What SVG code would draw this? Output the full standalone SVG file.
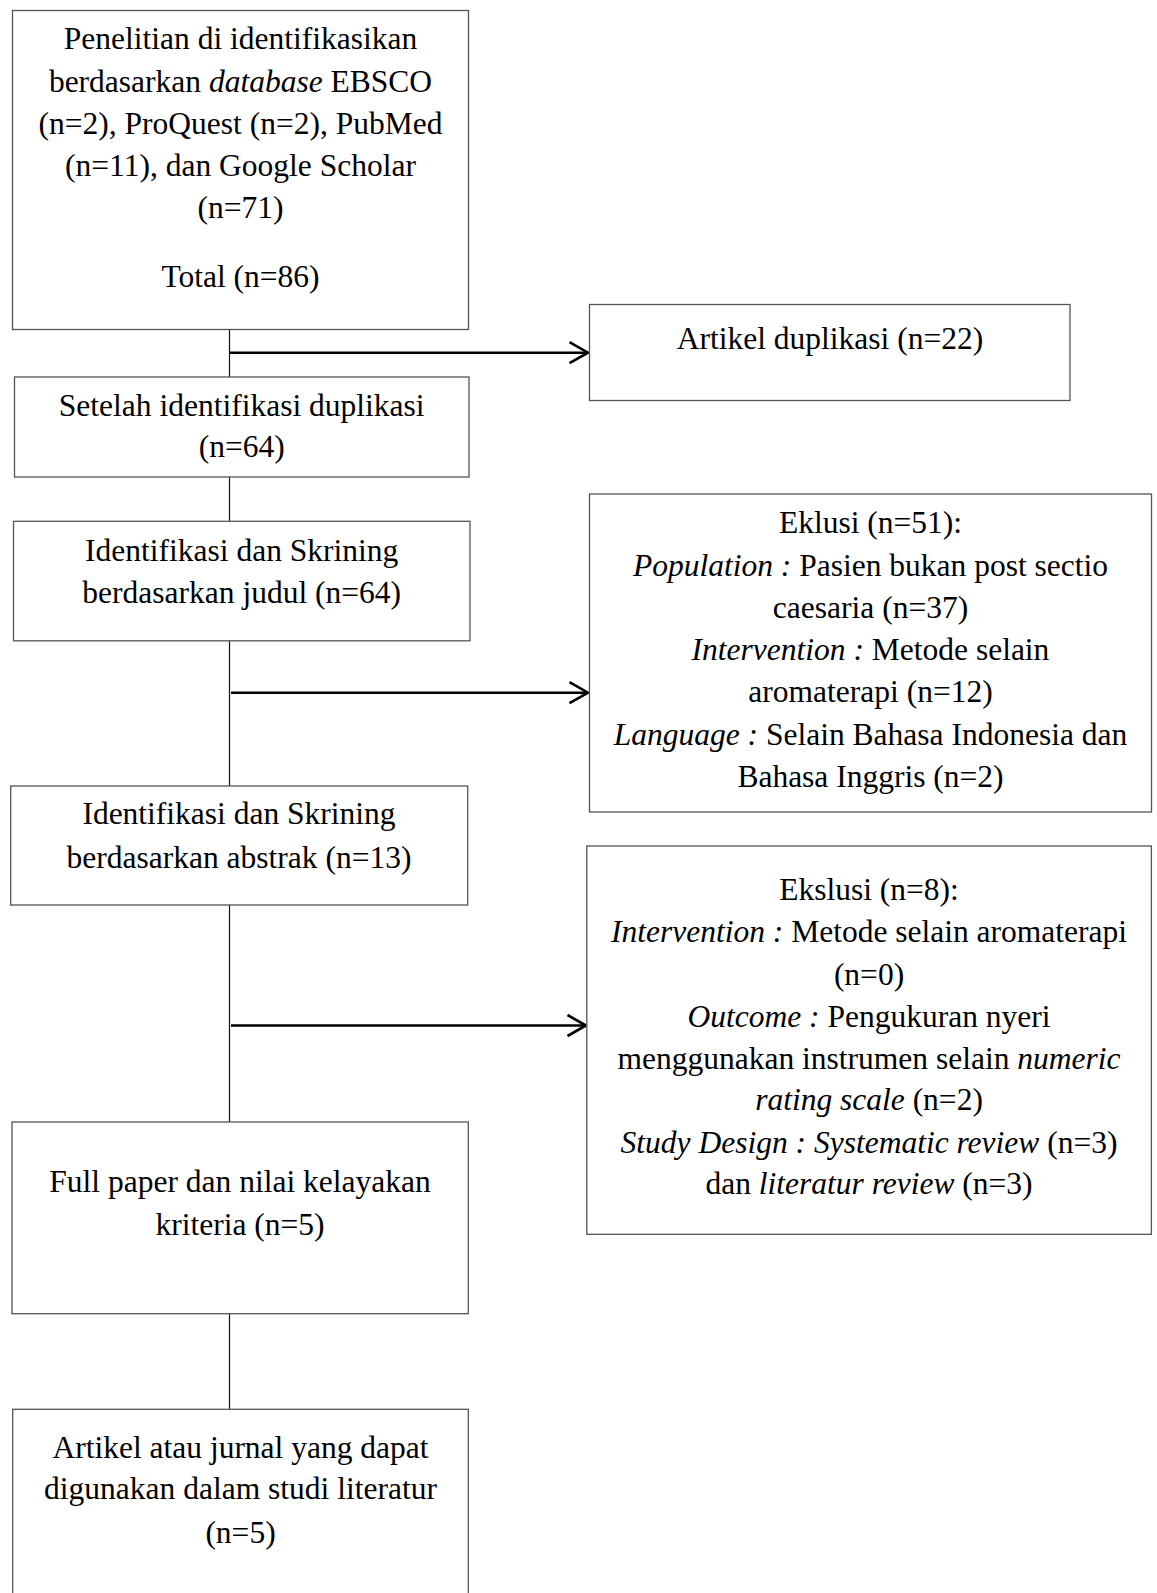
<svg xmlns="http://www.w3.org/2000/svg" width="1157" height="1593" viewBox="0 0 1157 1593">
<style>
  .box { fill: #ffffff; stroke: #555555; stroke-width: 1.3; }
  .t { font-family: "Liberation Serif", "Times New Roman", serif; font-size: 31.5px; fill: #000000; text-anchor: middle; }
  .i { font-style: italic; }
  .vline { stroke: #111111; stroke-width: 1.2; fill: none; }
  .arrow { stroke: #000000; stroke-width: 2.6; fill: none; marker-end: url(#chev); }
</style>
<defs>
  <marker id="chev" markerUnits="userSpaceOnUse" markerWidth="24" markerHeight="26" refX="20" refY="12" orient="auto" overflow="visible">
    <path d="M1.5,1.5 L20,12 L1.5,22.5" fill="none" stroke="#000000" stroke-width="2.6" stroke-linejoin="miter"/>
  </marker>
</defs>
<rect x="0" y="0" width="1157" height="1593" fill="#ffffff"/>

<g id="connectors">
  <line class="vline" x1="229.5" y1="329" x2="229.5" y2="377"/>
  <line class="vline" x1="229.5" y1="477" x2="229.5" y2="521"/>
  <line class="vline" x1="229.5" y1="641" x2="229.5" y2="786"/>
  <line class="vline" x1="229.5" y1="905" x2="229.5" y2="1122"/>
  <line class="vline" x1="229.5" y1="1314" x2="229.5" y2="1409"/>
  <line class="arrow" x1="229.5" y1="352.7" x2="588" y2="352.7"/>
  <line class="arrow" x1="231" y1="692.7" x2="588" y2="692.7"/>
  <line class="arrow" x1="231" y1="1025.5" x2="586" y2="1025.5"/>
</g>

<g id="node-identifikasi">
  <rect class="box" x="12.5" y="10.5" width="456" height="319"/>
  <text class="t" x="240.5" y="49">Penelitian di identifikasikan</text>
  <text class="t" x="240.5" y="91.5">berdasarkan <tspan class="i">database</tspan> EBSCO</text>
  <text class="t" x="240.5" y="133.5">(n=2), ProQuest (n=2), PubMed</text>
  <text class="t" x="240.5" y="175.5">(n=11), dan Google Scholar</text>
  <text class="t" x="240.5" y="218">(n=71)</text>
  <text class="t" x="240.5" y="287">Total (n=86)</text>
</g>

<g id="node-duplikasi">
  <rect class="box" x="589.5" y="304.5" width="480.5" height="96"/>
  <text class="t" x="830" y="349">Artikel duplikasi (n=22)</text>
</g>

<g id="node-setelah">
  <rect class="box" x="14.5" y="377" width="454.5" height="100"/>
  <text class="t" x="241.7" y="416">Setelah identifikasi duplikasi</text>
  <text class="t" x="241.7" y="457">(n=64)</text>
</g>

<g id="node-judul">
  <rect class="box" x="13.5" y="521.3" width="456.5" height="119.5"/>
  <text class="t" x="241.7" y="560.7">Identifikasi dan Skrining</text>
  <text class="t" x="241.7" y="602.7">berdasarkan judul (n=64)</text>
</g>

<g id="node-eklusi">
  <rect class="box" x="589.5" y="494" width="562" height="318"/>
  <text class="t" x="870.5" y="533.3">Eklusi (n=51):</text>
  <text class="t" x="870.5" y="575.7"><tspan class="i">Population :</tspan> Pasien bukan post sectio</text>
  <text class="t" x="870.5" y="618.3">caesaria (n=37)</text>
  <text class="t" x="870.5" y="660"><tspan class="i">Intervention :</tspan> Metode selain</text>
  <text class="t" x="870.5" y="701.7">aromaterapi (n=12)</text>
  <text class="t" x="870.5" y="745"><tspan class="i">Language :</tspan> Selain Bahasa Indonesia dan</text>
  <text class="t" x="870.5" y="786.7">Bahasa Inggris (n=2)</text>
</g>

<g id="node-abstrak">
  <rect class="box" x="10.7" y="786" width="457" height="119"/>
  <text class="t" x="239" y="824">Identifikasi dan Skrining</text>
  <text class="t" x="239" y="867.7">berdasarkan abstrak (n=13)</text>
</g>

<g id="node-ekslusi">
  <rect class="box" x="586.8" y="846" width="564.6" height="388.3"/>
  <text class="t" x="869" y="900">Ekslusi (n=8):</text>
  <text class="t" x="869" y="941.7"><tspan class="i">Intervention :</tspan> Metode selain aromaterapi</text>
  <text class="t" x="869" y="985">(n=0)</text>
  <text class="t" x="869" y="1026.7"><tspan class="i">Outcome :</tspan> Pengukuran nyeri</text>
  <text class="t" x="869" y="1069.3">menggunakan instrumen selain <tspan class="i">numeric</tspan></text>
  <text class="t" x="869" y="1110"><tspan class="i">rating scale</tspan> (n=2)</text>
  <text class="t" x="869" y="1152.7"><tspan class="i">Study Design : Systematic review</tspan> (n=3)</text>
  <text class="t" x="869" y="1194.3">dan <tspan class="i">literatur review</tspan> (n=3)</text>
</g>

<g id="node-fullpaper">
  <rect class="box" x="12" y="1122" width="456.3" height="191.7"/>
  <text class="t" x="240" y="1191.7">Full paper dan nilai kelayakan</text>
  <text class="t" x="240" y="1235">kriteria (n=5)</text>
</g>

<g id="node-hasil">
  <rect class="box" x="12.7" y="1409.3" width="455.6" height="200"/>
  <text class="t" x="240.5" y="1458.3">Artikel atau jurnal yang dapat</text>
  <text class="t" x="240.5" y="1499.3">digunakan dalam studi literatur</text>
  <text class="t" x="240.5" y="1543.3">(n=5)</text>
</g>
</svg>
